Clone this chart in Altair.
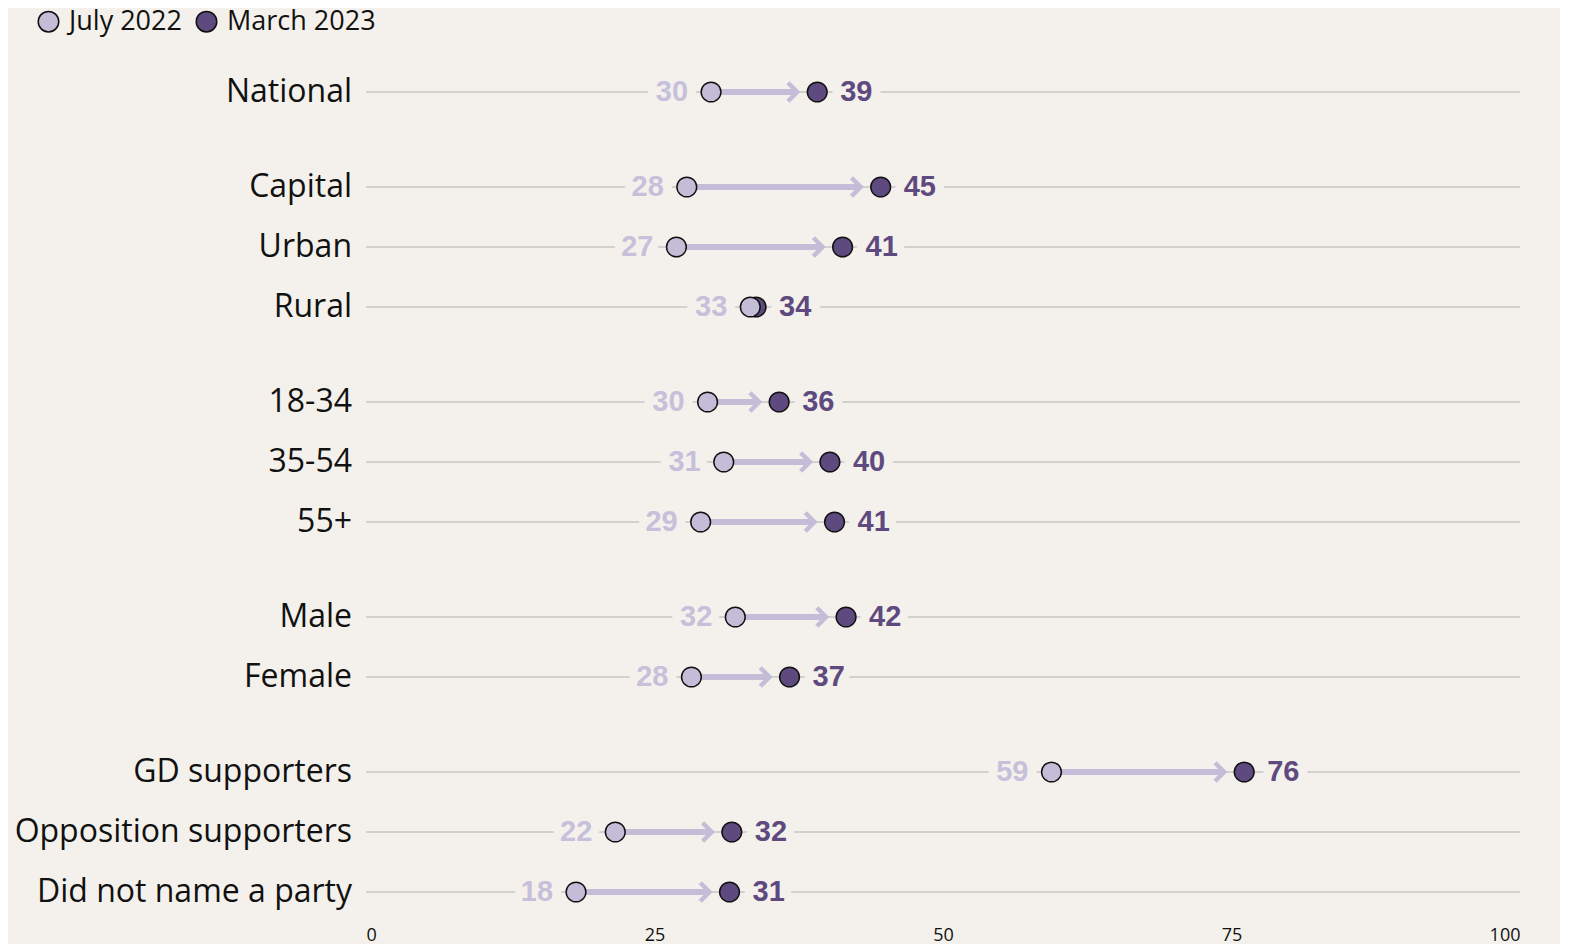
import altair as alt
import pandas as pd

groups = ["National", "Capital", "Urban", "Rural", "18-34", "35-54", "55+",
          "Male", "Female", "GD supporters", "Opposition supporters",
          "Did not name a party"]
block = [0, 1, 1, 1, 2, 2, 2, 3, 3, 4, 4, 4]
july = [29.9, 27.8, 26.9, 33.3, 29.6, 31.0, 29.0, 32.0, 28.2, 59.4, 21.6, 18.2]
march = [39.1, 44.6, 41.3, 33.8, 35.8, 40.2, 40.6, 41.6, 36.7, 76.1, 31.7, 31.5]
july_labels = [30, 28, 27, 33, 30, 31, 29, 32, 28, 59, 22, 18]
march_labels = [39, 45, 41, 34, 36, 40, 41, 42, 37, 76, 32, 31]
series = ["July 2022", "March 2023"]
ticks = [0, 25, 50, 75, 100]

BG = "#f4f1ec"
LIGHT = "#c3bdd8"
LIGHT_TXT = "#c6c0da"
DARK = "#5e4a7f"
GRID = "#c6c6c6"

rows = pd.DataFrame({
    "group": groups,
    "pos": [i * 60 + b * 35 for i, b in enumerate(block)],
    "jul": july,
    "mar": march,
    "jl": july_labels,
    "ml": march_labels,
    "lo": ticks[0],
    "hi": ticks[-1],
})

pts = pd.concat([
    pd.DataFrame({"pos": rows["pos"], "value": march, "series": series[1]}),
    pd.DataFrame({"pos": rows["pos"], "value": july, "series": series[0]}),
], ignore_index=True)
pts["ord"] = range(len(pts))

xaxis = alt.Axis(values=ticks, domain=False, ticks=False, grid=False, title=None,
                 labelFont="Open Sans", labelFontSize=18, labelColor="#111111",
                 labelPadding=4)
xs = alt.Scale(domain=[ticks[0], ticks[-1]], nice=False, zero=False)
ys = alt.Scale(domain=[-50, 830], reverse=True, nice=False, zero=False)
Y = alt.Y("pos:Q", scale=ys, axis=None)

base = alt.Chart(rows)

grid = base.mark_rule(color=GRID, strokeWidth=1.6).encode(
    x=alt.X("lo:Q", scale=xs, axis=xaxis), x2="hi:Q", y=Y)

arrow_rows = base.transform_filter("datum.mar - datum.jul > 3")
arrows = arrow_rows.mark_rule(color=LIGHT, strokeWidth=6, x2Offset=-21).encode(
    x=alt.X("jul:Q", scale=xs, axis=xaxis), x2="mar:Q", y=Y)
heads = arrow_rows.mark_point(shape="M-1,-1L0,0L-1,1", filled=False, stroke=LIGHT,
                              strokeWidth=4.5, size=340, xOffset=-20, opacity=1,
                              strokeJoin="miter").encode(
    x=alt.X("mar:Q", scale=xs, axis=xaxis), y=Y)

tstyle = dict(font="Liberation Sans", fontWeight="bold", fontSize=29, baseline="middle")
jl_bg = base.mark_text(align="right", dx=-23, color=BG, stroke=BG, strokeWidth=18,
                       strokeJoin="round", **tstyle).encode(
    x=alt.X("jul:Q", scale=xs, axis=xaxis), y=Y, text="jl:Q")
ml_bg = base.mark_text(align="left", dx=23, color=BG, stroke=BG, strokeWidth=18,
                       strokeJoin="round", **tstyle).encode(
    x=alt.X("mar:Q", scale=xs, axis=xaxis), y=Y, text="ml:Q")
jl_txt = base.mark_text(align="right", dx=-23, color=LIGHT_TXT, **tstyle).encode(
    x=alt.X("jul:Q", scale=xs, axis=xaxis), y=Y, text="jl:Q")
ml_txt = base.mark_text(align="left", dx=23, color=DARK, **tstyle).encode(
    x=alt.X("mar:Q", scale=xs, axis=xaxis), y=Y, text="ml:Q")

points = alt.Chart(pts).mark_circle(size=390, stroke="#111111", strokeWidth=1.5,
                                     opacity=1).encode(
    x=alt.X("value:Q", scale=xs, axis=xaxis),
    y=Y,
    order=alt.Order("ord:Q"),
    color=alt.Color("series:N",
                    scale=alt.Scale(domain=series, range=[LIGHT, DARK]),
                    legend=alt.Legend(title=None, orient="none", direction="horizontal",
                                      legendX=-331, legendY=-34, padding=0,
                                      symbolType="circle", symbolSize=420,
                                      symbolStrokeColor="#111111", symbolStrokeWidth=1.5,
                                      symbolOpacity=1, labelFont="Open Sans",
                                      labelFontSize=27, labelColor="#111111",
                                      labelOffset=7, columnPadding=11,
                                      labelLimit=400)),
)

row_labels = base.mark_text(align="right", baseline="middle", font="Open Sans",
                            fontSize=32, color="#111111", dx=-14).encode(
    x=alt.value(0), y=Y, text="group:N")

chart = alt.layer(grid, arrows, heads, jl_bg, ml_bg, jl_txt, ml_txt, points,
                  row_labels).properties(
    width=1154, height=880,
    autosize=alt.AutoSizeParams(type="none"),
    padding={"left": 358, "top": 34, "right": 40, "bottom": 22},
    background=BG,
).configure_view(stroke=None)

chart.save("out.html", embed_options={"renderer": "svg", "actions": False})
